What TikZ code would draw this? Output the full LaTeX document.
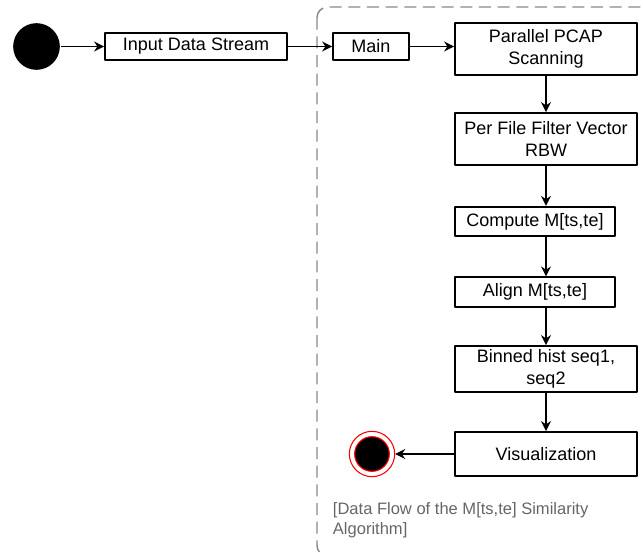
\documentclass[tikz,border=0pt]{standalone}
\usepackage{fontspec}
\setmainfont{Liberation Sans}
\usetikzlibrary{arrows.meta}
\definecolor{capgray}{HTML}{666666}
\definecolor{framegray}{HTML}{888888}
\begin{document}
\begin{tikzpicture}[x=0.75pt, y=-0.75pt, font=\fontsize{13.5}{17}\selectfont, line join=round, >={Stealth[length=7.5pt, width=7.5pt, inset=2.5pt]}, line width=1.4pt,
	box/.style={draw, inner sep=0pt, align=center, minimum height=20.25pt},
	wide/.style={box, minimum width=136.5pt},
	narrow/.style={box, minimum width=120pt}]
	\useasboundingbox (0,0) rectangle (643,553);
	\begin{scope}
		\clip (0,0) rectangle (643,553);
		\draw[framegray, line width=1.1pt, dash pattern=on 9pt off 5pt, rounded corners=8pt] (317,7) rectangle (670,556);
	\end{scope}
	\node[circle, fill=black, inner sep=0pt, minimum size=35pt] (start) at (36.5,46.5) {};
	\node[box, minimum width=136.5pt] (input) at (196,46.5) {Input Data Stream};
	\node[box, minimum width=57pt] (main) at (371,46.5) {Main};
	\node[wide, minimum height=39pt] (pcap) at (546,49) {Parallel PCAP\\Scanning};
	\node[wide, minimum height=39pt] (filter) at (546,139) {Per File Filter Vector\\RBW};
	\node[narrow, minimum height=22pt] (compute) at (535,221.5) {Compute M[ts,te]};
	\node[narrow, minimum height=22pt] (align) at (535,292) {Align M[ts,te]};
	\node[wide, minimum height=34.5pt] (binned) at (546,369) {Binned hist seq1,\\seq2};
	\node[wide, minimum height=33pt] (vis) at (546,454) {Visualization};
	\node[circle, draw=red, line width=0.8pt, inner sep=0pt, minimum size=34pt] (end) at (372,454) {};
	\node[circle, draw=red, fill=black, line width=0.8pt, inner sep=0pt, minimum size=26pt] at (end) {};
	\node[capgray, anchor=west, align=left, inner sep=0pt, font=\fontsize{12.4}{15}\selectfont] (cap) at (332,520) {[Data Flow of the M[ts,te] Similarity\\Algorithm]};
	\draw[->] (start) -- (input);
	\draw[->] (input) -- (main);
	\draw[->] (main.east) -- (main.east -| pcap.west);
	\draw[->] (pcap) -- (filter);
	\draw[->] (filter.south) -- (filter.south |- compute.north);
	\draw[->] (compute.south -| filter.south) -- (filter.south |- align.north);
	\draw[->] (align.south -| filter.south) -- (binned.north);
	\draw[->] (binned) -- (vis);
	\draw[->] (vis) -- (end);
\end{tikzpicture}
\end{document}
